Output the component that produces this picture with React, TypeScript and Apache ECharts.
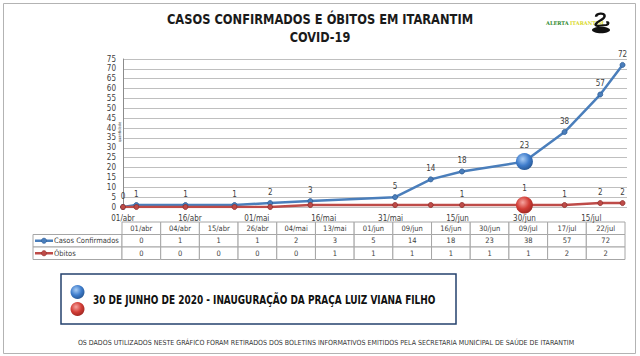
import React, { useEffect, useRef } from "react";
import * as echarts from "echarts";

// ---- data ----
const dates = ["01/abr", "04/abr", "15/abr", "26/abr", "04/mai", "13/mai", "01/jun", "09/jun", "16/jun", "30/jun", "09/jul", "17/jul", "22/jul"];
const casos = [0, 1, 1, 1, 2, 3, 5, 14, 18, 23, 38, 57, 72];
const obitos = [0, 0, 0, 0, 0, 1, 1, 1, 1, 1, 1, 2, 2];
const obitosLabelShown = [false, false, false, false, false, false, false, false, true, true, true, true, true];
const highlightDate = "30/jun";
const seriesNames = ["Casos Confirmados", "Óbitos"];
const yMin = 0;
const yMax = 75;
const yInterval = 5;
const xTickDays = 15;
const xMaxDays = 113;
const titleLines = ["CASOS CONFIRMADOS E ÓBITOS EM ITARANTIM", "COVID-19"];
const noteText = "30 DE JUNHO DE 2020 - INAUGURAÇÃO DA PRAÇA LUIZ VIANA FILHO";
const footerText = "OS DADOS UTILIZADOS NESTE GRÁFICO FORAM RETIRADOS DOS BOLETINS INFORMATIVOS EMITIDOS PELA SECRETARIA MUNICIPAL DE SAÚDE DE ITARANTIM";
const yAxisName = "quantidade";
const logoWords = ["ALERTA", "ITARANTIM"];

const monthNames = ["abr", "mai", "jun", "jul", "ago"];
const monthStart = [0, 30, 61, 91, 122];

function dayOf(d: string): number {
  const [dd, mm] = d.split("/");
  const m = monthNames.indexOf(mm);
  return monthStart[m] + parseInt(dd, 10) - 1;
}
function dateOf(n: number): string {
  let m = 0;
  for (let i = 0; i < monthStart.length; i++) if (n >= monthStart[i]) m = i;
  const d = n - monthStart[m] + 1;
  return (d < 10 ? "0" + d : "" + d) + "/" + monthNames[m];
}

const FONT = "'Liberation Sans Narrow', 'Arial Narrow', 'DejaVu Sans Condensed', sans-serif";
const BLUE = "#4a7ebb";
const RED = "#be4b48";

try {
  echarts.graphic.registerShape(
    "logo",
    echarts.graphic.extendPath("M6 5 C6 0 16 -1 16 4 C16 8 10 10 7 13 C4 16 6 18 10 17 L18 16 C21 15 21 12 18 12", {})
  );
} catch (e) {
  // already registered
}

const blueBall = new echarts.graphic.RadialGradient(0.4, 0.35, 0.7, [
  { offset: 0, color: "#a9cdf5" },
  { offset: 0.55, color: "#3f7dcc" },
  { offset: 1, color: "#25548f" },
]);
const redBall = new echarts.graphic.RadialGradient(0.4, 0.35, 0.7, [
  { offset: 0, color: "#f6a5a0" },
  { offset: 0.55, color: "#d23d36" },
  { offset: 1, color: "#9a2520" },
]);

export default function App() {
  const ref = useRef<HTMLDivElement>(null);
  useEffect(() => {
    if (!ref.current) return;
    const chart = echarts.init(ref.current, null, { renderer: "svg" });

    const gridLeft = 123;
    const gridTop = 59;
    const gridW = 504;
    const gridH = 148;

    // data table geometry
    const tLeft = 122;
    const tRight = 625;
    const keyLeft = 33;
    const tTop = 222;
    const rowH = 12.5;
    const colW = (tRight - tLeft) / dates.length;
    const tableEls: any[] = [];
    const cellStyle = { fill: "#ffffff", stroke: "#a6a6a6", lineWidth: 1 };
    const txt = (x: number, y: number, s: string, extra: any = {}) => ({
      type: "text",
      x,
      y,
      style: { text: s, fontSize: 7.5, fontFamily: FONT, fill: "#404040", align: "center", verticalAlign: "middle", ...extra },
    });
    dates.forEach((d, i) => {
      const x = tLeft + i * colW;
      tableEls.push({ type: "rect", shape: { x, y: tTop, width: colW, height: rowH }, style: cellStyle });
      tableEls.push(txt(x + colW / 2, tTop + rowH / 2, d));
    });
    const rows = [casos, obitos];
    const colors = [BLUE, RED];
    rows.forEach((vals, r) => {
      const y = tTop + rowH * (r + 1);
      tableEls.push({ type: "rect", shape: { x: keyLeft, y, width: tLeft - keyLeft, height: rowH }, style: cellStyle });
      tableEls.push({ type: "line", shape: { x1: keyLeft + 2, y1: y + rowH / 2, x2: keyLeft + 20, y2: y + rowH / 2 }, style: { stroke: colors[r], lineWidth: 2.5 } });
      tableEls.push({ type: "circle", shape: { cx: keyLeft + 11, cy: y + rowH / 2, r: 2.6 }, style: { fill: colors[r], stroke: r === 0 ? "#2f5d95" : "#8e2f2c", lineWidth: 0.6 } });
      tableEls.push(txt(keyLeft + 21, y + rowH / 2, seriesNames[r], { align: "left" }));
      vals.forEach((v, i) => {
        const x = tLeft + i * colW;
        tableEls.push({ type: "rect", shape: { x, y, width: colW, height: rowH }, style: cellStyle });
        tableEls.push(txt(x + colW / 2, y + rowH / 2, String(v)));
      });
    });

    const mkData = (vals: number[], ball: any, small: string, edge: string, shown?: boolean[]) =>
      dates.map((d, i) => {
        const hl = d === highlightDate;
        const item: any = {
          value: [dayOf(d), vals[i]],
          symbolSize: hl ? 17 : 5,
          itemStyle: hl ? { color: ball, borderWidth: 0 } : { color: small, borderColor: edge, borderWidth: 0.8 },
        };
        if (shown) item.label = { show: shown[i] };
        return item;
      });

    chart.setOption({
      animation: false,
      backgroundColor: "#ffffff",
      grid: { left: gridLeft, top: gridTop, width: gridW, height: gridH, containLabel: false },
      xAxis: {
        type: "value",
        min: 0,
        max: xMaxDays,
        interval: xTickDays,
        axisLine: { show: false },
        axisTick: { show: false },
        splitLine: { show: false },
        axisLabel: {
          fontSize: 8,
          fontFamily: FONT,
          color: "#404040",
          margin: 7,
          showMaxLabel: false,
          formatter: (v: number) => dateOf(v),
        },
      },
      yAxis: {
        type: "value",
        min: yMin,
        max: yMax,
        interval: yInterval,
        axisLine: { show: true, lineStyle: { color: "#8c8c8c", width: 1 } },
        axisTick: { show: false },
        splitLine: { show: true, lineStyle: { color: "#bfbfbf", width: 1 } },
        axisLabel: { fontSize: 8, fontFamily: FONT, color: "#404040", margin: 7 },
      },
      series: [
        {
          name: seriesNames[0],
          type: "line",
          data: mkData(casos, blueBall, BLUE, "#2f5d95"),
          symbol: "circle",
          lineStyle: { color: BLUE, width: 2.5 },
          itemStyle: { color: BLUE },
          label: { show: true, position: "top", distance: 4, fontSize: 8, fontFamily: FONT, color: "#404040" },
          z: 3,
        },
        {
          name: seriesNames[1],
          type: "line",
          data: mkData(obitos, redBall, RED, "#8e2f2c", obitosLabelShown),
          symbol: "circle",
          lineStyle: { color: RED, width: 2.5 },
          itemStyle: { color: RED },
          label: { show: true, position: "top", distance: 4, fontSize: 8, fontFamily: FONT, color: "#404040" },
          z: 4,
        },
      ],
      graphic: [
        { type: "rect", shape: { x: 3.5, y: 3.5, width: 632, height: 350 }, style: { fill: "none", stroke: "#b3b3b3", lineWidth: 1 }, z: -1 },
        { type: "text", x: 320, y: 19, scaleX: 0.91, style: { text: titleLines[0], fontSize: 14, fontWeight: "bold", fontFamily: FONT, fill: "#1a1a1a", align: "center", verticalAlign: "middle" } },
        { type: "text", x: 320, y: 37, scaleX: 0.9, style: { text: titleLines[1], fontSize: 14, fontWeight: "bold", fontFamily: FONT, fill: "#1a1a1a", align: "center", verticalAlign: "middle" } },
        // logo
        { type: "text", x: 546, y: 23, style: { text: logoWords[0], fontSize: 5, fontWeight: "bold", fontFamily: "DejaVu Serif, serif", fill: "#2f8a2f", verticalAlign: "middle" } },
        { type: "text", x: 570, y: 23, style: { text: logoWords[1], fontSize: 5, fontWeight: "bold", fontFamily: "DejaVu Serif, serif", fill: "#d9d92a", verticalAlign: "middle" } },
        { type: "logo", x: 591, y: 13, scaleX: 0.85, scaleY: 0.75, style: { fill: "none", stroke: "#111111", lineWidth: 3 } },
        { type: "ellipse", shape: { cx: 601, cy: 30, rx: 9, ry: 3.2 }, style: { fill: "#111111" } },
        ...tableEls,
        { type: "text", x: 119.5, y: 132, rotation: Math.PI / 2, style: { text: yAxisName, fontSize: 4, fontFamily: FONT, fill: "#404040", align: "center", verticalAlign: "middle" } },
        // note box
        { type: "rect", shape: { x: 61, y: 274, width: 395, height: 50 }, style: { fill: "#ffffff", stroke: "#24426e", lineWidth: 1.5 } },
        { type: "circle", shape: { cx: 77.5, cy: 292, r: 7 }, style: { fill: blueBall } },
        { type: "circle", shape: { cx: 77.5, cy: 309, r: 7 }, style: { fill: redBall } },
        { type: "text", x: 93, y: 300, scaleX: 0.83, style: { text: noteText, fontSize: 12, fontWeight: "bold", fontFamily: FONT, fill: "#111111", verticalAlign: "middle" } },
        { type: "text", x: 326, y: 343, style: { text: footerText, fontSize: 7, fontFamily: FONT, fill: "#333333", align: "center", verticalAlign: "middle" } },
      ],
    });
    return () => chart.dispose();
  }, []);
  return <div ref={ref} style={{ position: "fixed", left: 0, top: 0, width: 640, height: 356 }} />;
}
